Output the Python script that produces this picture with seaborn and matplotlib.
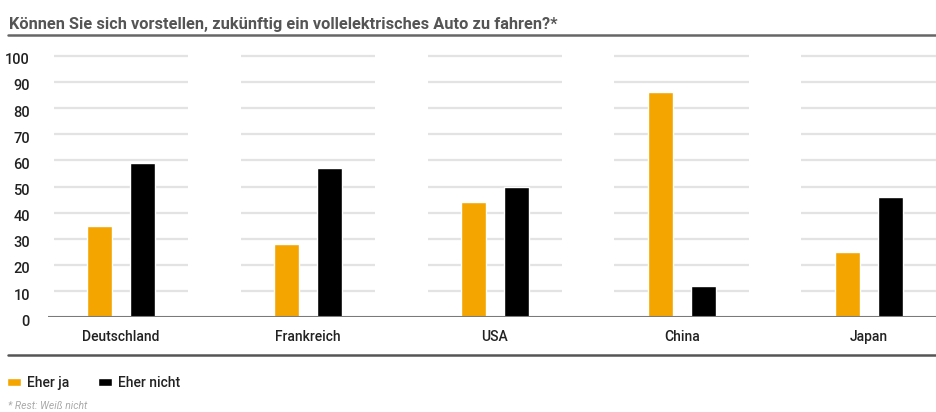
import matplotlib
matplotlib.use("Agg")
import matplotlib.pyplot as plt
import matplotlib.transforms as mtrans
from matplotlib.lines import Line2D
import seaborn as sns
import pandas as pd

# ---- data ----
countries = ["Deutschland", "Frankreich", "USA", "China", "Japan"]
eher_ja = [35, 28, 44, 86, 25]
eher_nicht = [59, 57, 50, 12, 46]
series_names = ["Eher ja", "Eher nicht"]
yticks = [0, 10, 20, 30, 40, 50, 60, 70, 80, 90, 100]
title = "Können Sie sich vorstellen, zukünftig ein vollelektrisches Auto zu fahren?*"
footnote = "* Rest: Weiß nicht"

df = pd.DataFrame({
    "Land": countries * 2,
    "Antwort": [series_names[0]] * len(countries) + [series_names[1]] * len(countries),
    "Wert": eher_ja + eher_nicht,
})

sns.set_theme(style="white")
plt.rcParams["font.family"] = ["Roboto", "DejaVu Sans"]

W, H = 936, 412
fig = plt.figure(figsize=(W / 100, H / 100), dpi=100)
ax = fig.add_axes([48 / W, 1 - 317.3 / H, 1 - 48 / W, (317.3 - 55.7) / H])

sns.barplot(data=df, x="Land", y="Wert", hue="Antwort", order=countries,
            hue_order=series_names, palette=["#F5A500", "#000000"],
            width=0.46, gap=0.42, saturation=1, ax=ax, zorder=3)

# segmented gridlines per category
for i in range(len(countries)):
    ax.hlines(yticks[1:], i - 0.36, i + 0.36, colors="#e3e3e3", linewidth=1.6,
              zorder=1, clip_on=False)
ax.axhline(0, color="#7a7a7a", linewidth=1.5, zorder=4)

ax.set_xlim(-0.39, len(countries) - 1 + 0.36)
ax.set_ylim(0, 100)
ax.set_yticks(yticks)
ax.set_yticklabels([str(t) for t in yticks])
for s in ax.spines.values():
    s.set_visible(False)
ax.set_xlabel("")
ax.set_ylabel("")
ax.tick_params(axis="y", length=0, pad=13, labelsize=10.5, labelcolor="#222222")
ax.tick_params(axis="x", length=0, pad=9, labelsize=10, labelcolor="#222222")
off = mtrans.ScaledTranslation(0, -3 / 100, fig.dpi_scale_trans)
for lab in ax.get_yticklabels():
    lab.set_transform(lab.get_transform() + off)
    lab.set_fontweight("medium")
for lab in ax.get_xticklabels():
    lab.set_fontweight("medium")

# legend
handles, labels = ax.get_legend_handles_labels()
if ax.get_legend() is not None:
    ax.get_legend().remove()
fig.legend(handles, labels, loc="center left", bbox_to_anchor=(-3 / W, 1 - 383 / H),
           ncol=2, frameon=False, handlelength=1.0, handleheight=0.45,
           handletextpad=0.45, columnspacing=2.1, borderpad=0.2,
           labelcolor="#222222", prop={"weight": "medium", "size": 10})

# title and rules
fig.text(9 / W, 1 - 24 / H, title, fontsize=11.8, fontweight="bold", color="#555555",
         va="center", ha="left")
fig.add_artist(Line2D([8 / W, 1], [1 - 35 / H, 1 - 35 / H], transform=fig.transFigure,
                      color="#666666", linewidth=1.8))
fig.add_artist(Line2D([8 / W, 1], [1 - 355 / H, 1 - 355 / H], transform=fig.transFigure,
                      color="#555555", linewidth=1.8))
fig.text(8 / W, 1 - 406 / H, footnote, fontsize=7.5, style="italic", color="#aaaaaa",
         va="center", ha="left")

fig.savefig("out.png", dpi=100)
